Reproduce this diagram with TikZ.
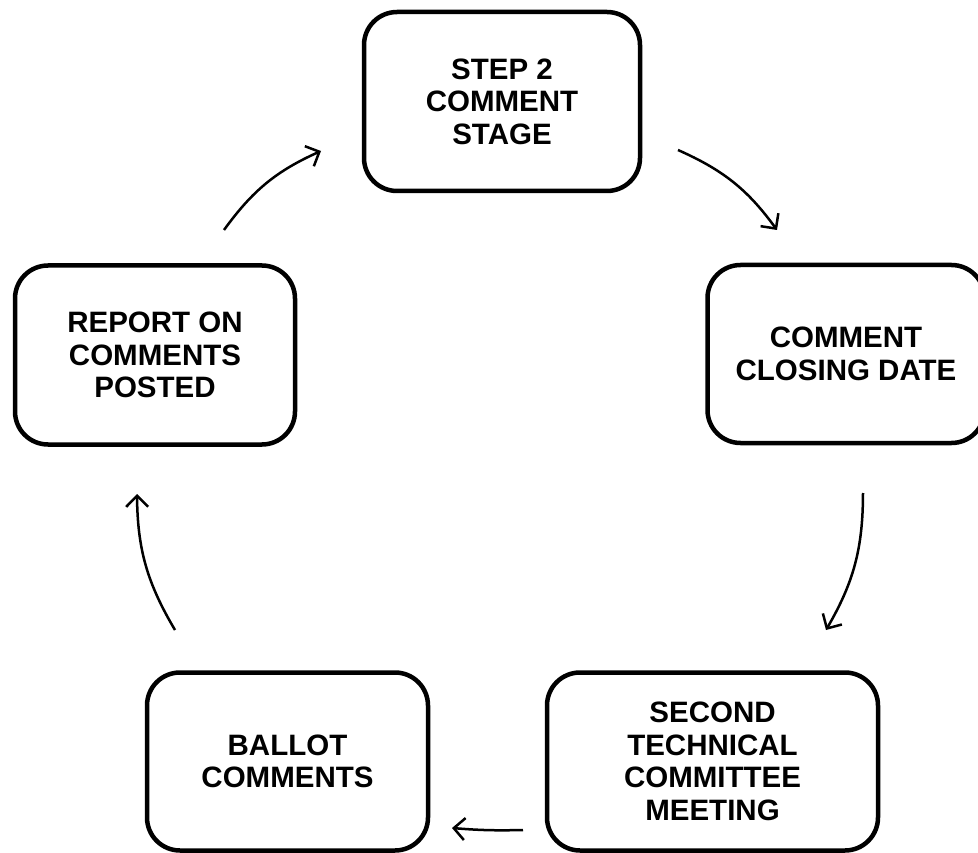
\documentclass[tikz,border=0pt]{standalone}
\usepackage{fontspec}
\setmainfont{Liberation Sans}
\usetikzlibrary{arrows.meta}
\begin{document}
\begin{tikzpicture}[x=1pt,y=-1pt,
  box/.style={draw=black, line width=4.5pt, rounded corners=33pt, align=center,
    font=\fontsize{29.5}{32.5}\selectfont\bfseries, inner sep=0pt},
  flow/.style={line width=2.5pt, -{Straight Barb[length=11pt,width=22pt]}, bend left=15}]
\useasboundingbox (0,0) rectangle (978,853);
\fill[white] (0,0) rectangle (978,853);
\node[box, minimum width=276pt, minimum height=179pt] (step) at (502,101.5) {STEP 2\\COMMENT\\STAGE};
\node[box, minimum width=277pt, minimum height=178pt] (close) at (846,354) {COMMENT\\CLOSING DATE};
\node[box, minimum width=331pt, minimum height=178pt] (meet) at (712.5,761.5) {SECOND\\TECHNICAL\\COMMITTEE\\MEETING};
\node[box, minimum width=281pt, minimum height=178pt] (ballot) at (287.5,761.5) {BALLOT\\COMMENTS};
\node[box, minimum width=280pt, minimum height=179pt] (report) at (155,355) {REPORT ON\\COMMENTS\\POSTED};
\coordinate (a1s) at (678,150); \coordinate (a1e) at (777,230);
\coordinate (a2s) at (863,493); \coordinate (a2e) at (826,630);
\coordinate (a3s) at (523,830); \coordinate (a3e) at (452,828);
\coordinate (a4s) at (175,630); \coordinate (a4e) at (137,494);
\coordinate (a5s) at (224,230); \coordinate (a5e) at (321,151);
\draw[flow] (a1s) to (a1e);
\draw[flow] (a2s) to (a2e);
\draw[flow, bend left=3] (a3s) to (a3e);
\draw[flow] (a4s) to (a4e);
\draw[flow] (a5s) to (a5e);
\end{tikzpicture}
\end{document}
